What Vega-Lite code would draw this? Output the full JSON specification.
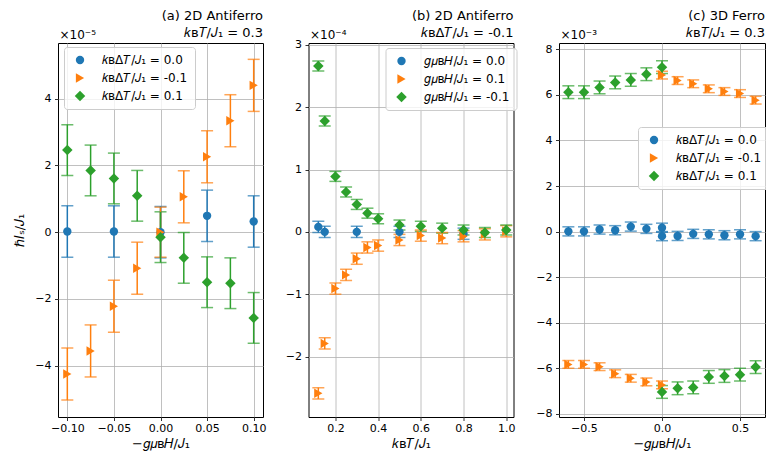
{
  "$schema": "https://vega.github.io/schema/vega-lite/v6.json",
  "padding": {"left": 13, "top": 9, "right": 0, "bottom": 0},
  "spacing": 45.5,
  "bounds": "flush",
  "resolve": {"scale": {"color": "independent", "shape": "independent", "size": "independent"}, "legend": {"color": "independent", "shape": "independent", "size": "independent"}},
  "datasets": {
    "a": [
      {"x": -0.1, "v": 0.02, "e": 0.77, "s": "𝑘ʙΔ𝑇/𝐽₁ = 0.0"},
      {"x": -0.05, "v": 0.02, "e": 0.77, "s": "𝑘ʙΔ𝑇/𝐽₁ = 0.0"},
      {"x": 0.0, "v": 0.0, "e": 0.77, "s": "𝑘ʙΔ𝑇/𝐽₁ = 0.0"},
      {"x": 0.05, "v": 0.49, "e": 0.77, "s": "𝑘ʙΔ𝑇/𝐽₁ = 0.0"},
      {"x": 0.1, "v": 0.32, "e": 0.77, "s": "𝑘ʙΔ𝑇/𝐽₁ = 0.0"},
      {"x": -0.1, "v": -4.25, "e": 0.78, "s": "𝑘ʙΔ𝑇/𝐽₁ = -0.1"},
      {"x": -0.075, "v": -3.56, "e": 0.78, "s": "𝑘ʙΔ𝑇/𝐽₁ = -0.1"},
      {"x": -0.05, "v": -2.22, "e": 0.78, "s": "𝑘ʙΔ𝑇/𝐽₁ = -0.1"},
      {"x": -0.025, "v": -1.08, "e": 0.78, "s": "𝑘ʙΔ𝑇/𝐽₁ = -0.1"},
      {"x": 0.0, "v": 0.0, "e": 0.75, "s": "𝑘ʙΔ𝑇/𝐽₁ = -0.1"},
      {"x": 0.025, "v": 1.06, "e": 0.78, "s": "𝑘ʙΔ𝑇/𝐽₁ = -0.1"},
      {"x": 0.05, "v": 2.26, "e": 0.78, "s": "𝑘ʙΔ𝑇/𝐽₁ = -0.1"},
      {"x": 0.075, "v": 3.34, "e": 0.78, "s": "𝑘ʙΔ𝑇/𝐽₁ = -0.1"},
      {"x": 0.1, "v": 4.4, "e": 0.78, "s": "𝑘ʙΔ𝑇/𝐽₁ = -0.1"},
      {"x": -0.1, "v": 2.46, "e": 0.76, "s": "𝑘ʙΔ𝑇/𝐽₁ = 0.1"},
      {"x": -0.075, "v": 1.85, "e": 0.76, "s": "𝑘ʙΔ𝑇/𝐽₁ = 0.1"},
      {"x": -0.05, "v": 1.61, "e": 0.76, "s": "𝑘ʙΔ𝑇/𝐽₁ = 0.1"},
      {"x": -0.025, "v": 1.09, "e": 0.76, "s": "𝑘ʙΔ𝑇/𝐽₁ = 0.1"},
      {"x": 0.0, "v": -0.15, "e": 0.76, "s": "𝑘ʙΔ𝑇/𝐽₁ = 0.1"},
      {"x": 0.025, "v": -0.77, "e": 0.76, "s": "𝑘ʙΔ𝑇/𝐽₁ = 0.1"},
      {"x": 0.05, "v": -1.5, "e": 0.76, "s": "𝑘ʙΔ𝑇/𝐽₁ = 0.1"},
      {"x": 0.075, "v": -1.53, "e": 0.76, "s": "𝑘ʙΔ𝑇/𝐽₁ = 0.1"},
      {"x": 0.1, "v": -2.57, "e": 0.76, "s": "𝑘ʙΔ𝑇/𝐽₁ = 0.1"}
    ],
    "b": [
      {"x": 0.12, "v": 0.08, "e": 0.09, "s": "𝑔𝜇ʙ𝐻/𝐽₁ = 0.0"},
      {"x": 0.15, "v": 0.0, "e": 0.09, "s": "𝑔𝜇ʙ𝐻/𝐽₁ = 0.0"},
      {"x": 0.3, "v": 0.0, "e": 0.09, "s": "𝑔𝜇ʙ𝐻/𝐽₁ = 0.0"},
      {"x": 0.5, "v": 0.0, "e": 0.09, "s": "𝑔𝜇ʙ𝐻/𝐽₁ = 0.0"},
      {"x": 0.8, "v": -0.03, "e": 0.09, "s": "𝑔𝜇ʙ𝐻/𝐽₁ = 0.0"},
      {"x": 0.12, "v": -2.59, "e": 0.09, "s": "𝑔𝜇ʙ𝐻/𝐽₁ = 0.1"},
      {"x": 0.15, "v": -1.79, "e": 0.09, "s": "𝑔𝜇ʙ𝐻/𝐽₁ = 0.1"},
      {"x": 0.2, "v": -0.91, "e": 0.09, "s": "𝑔𝜇ʙ𝐻/𝐽₁ = 0.1"},
      {"x": 0.25, "v": -0.69, "e": 0.09, "s": "𝑔𝜇ʙ𝐻/𝐽₁ = 0.1"},
      {"x": 0.3, "v": -0.43, "e": 0.09, "s": "𝑔𝜇ʙ𝐻/𝐽₁ = 0.1"},
      {"x": 0.35, "v": -0.25, "e": 0.09, "s": "𝑔𝜇ʙ𝐻/𝐽₁ = 0.1"},
      {"x": 0.4, "v": -0.22, "e": 0.09, "s": "𝑔𝜇ʙ𝐻/𝐽₁ = 0.1"},
      {"x": 0.5, "v": -0.13, "e": 0.09, "s": "𝑔𝜇ʙ𝐻/𝐽₁ = 0.1"},
      {"x": 0.6, "v": -0.06, "e": 0.09, "s": "𝑔𝜇ʙ𝐻/𝐽₁ = 0.1"},
      {"x": 0.7, "v": -0.1, "e": 0.09, "s": "𝑔𝜇ʙ𝐻/𝐽₁ = 0.1"},
      {"x": 0.8, "v": -0.07, "e": 0.09, "s": "𝑔𝜇ʙ𝐻/𝐽₁ = 0.1"},
      {"x": 0.9, "v": -0.04, "e": 0.09, "s": "𝑔𝜇ʙ𝐻/𝐽₁ = 0.1"},
      {"x": 1.0, "v": 0.01, "e": 0.09, "s": "𝑔𝜇ʙ𝐻/𝐽₁ = 0.1"},
      {"x": 0.12, "v": 2.66, "e": 0.08, "s": "𝑔𝜇ʙ𝐻/𝐽₁ = -0.1"},
      {"x": 0.15, "v": 1.78, "e": 0.08, "s": "𝑔𝜇ʙ𝐻/𝐽₁ = -0.1"},
      {"x": 0.2, "v": 0.89, "e": 0.08, "s": "𝑔𝜇ʙ𝐻/𝐽₁ = -0.1"},
      {"x": 0.25, "v": 0.64, "e": 0.08, "s": "𝑔𝜇ʙ𝐻/𝐽₁ = -0.1"},
      {"x": 0.3, "v": 0.44, "e": 0.08, "s": "𝑔𝜇ʙ𝐻/𝐽₁ = -0.1"},
      {"x": 0.35, "v": 0.3, "e": 0.08, "s": "𝑔𝜇ʙ𝐻/𝐽₁ = -0.1"},
      {"x": 0.4, "v": 0.21, "e": 0.08, "s": "𝑔𝜇ʙ𝐻/𝐽₁ = -0.1"},
      {"x": 0.5, "v": 0.11, "e": 0.08, "s": "𝑔𝜇ʙ𝐻/𝐽₁ = -0.1"},
      {"x": 0.6, "v": 0.09, "e": 0.08, "s": "𝑔𝜇ʙ𝐻/𝐽₁ = -0.1"},
      {"x": 0.7, "v": 0.06, "e": 0.08, "s": "𝑔𝜇ʙ𝐻/𝐽₁ = -0.1"},
      {"x": 0.8, "v": 0.03, "e": 0.08, "s": "𝑔𝜇ʙ𝐻/𝐽₁ = -0.1"},
      {"x": 0.9, "v": -0.01, "e": 0.08, "s": "𝑔𝜇ʙ𝐻/𝐽₁ = -0.1"},
      {"x": 1.0, "v": 0.03, "e": 0.08, "s": "𝑔𝜇ʙ𝐻/𝐽₁ = -0.1"}
    ],
    "c": [
      {"x": -0.6, "v": 0.01, "e": 0.2, "s": "𝑘ʙΔ𝑇/𝐽₁ = 0.0"},
      {"x": -0.5, "v": 0.01, "e": 0.2, "s": "𝑘ʙΔ𝑇/𝐽₁ = 0.0"},
      {"x": -0.4, "v": 0.09, "e": 0.2, "s": "𝑘ʙΔ𝑇/𝐽₁ = 0.0"},
      {"x": -0.3, "v": 0.06, "e": 0.2, "s": "𝑘ʙΔ𝑇/𝐽₁ = 0.0"},
      {"x": -0.2, "v": 0.22, "e": 0.2, "s": "𝑘ʙΔ𝑇/𝐽₁ = 0.0"},
      {"x": -0.1, "v": 0.12, "e": 0.2, "s": "𝑘ʙΔ𝑇/𝐽₁ = 0.0"},
      {"x": 0.0, "v": 0.17, "e": 0.2, "s": "𝑘ʙΔ𝑇/𝐽₁ = 0.0"},
      {"x": 0.0, "v": -0.2, "e": 0.2, "s": "𝑘ʙΔ𝑇/𝐽₁ = 0.0"},
      {"x": 0.1, "v": -0.19, "e": 0.2, "s": "𝑘ʙΔ𝑇/𝐽₁ = 0.0"},
      {"x": 0.2, "v": -0.1, "e": 0.2, "s": "𝑘ʙΔ𝑇/𝐽₁ = 0.0"},
      {"x": 0.3, "v": -0.12, "e": 0.2, "s": "𝑘ʙΔ𝑇/𝐽₁ = 0.0"},
      {"x": 0.4, "v": -0.16, "e": 0.2, "s": "𝑘ʙΔ𝑇/𝐽₁ = 0.0"},
      {"x": 0.5, "v": -0.12, "e": 0.2, "s": "𝑘ʙΔ𝑇/𝐽₁ = 0.0"},
      {"x": 0.6, "v": -0.2, "e": 0.2, "s": "𝑘ʙΔ𝑇/𝐽₁ = 0.0"},
      {"x": -0.6, "v": -5.83, "e": 0.17, "s": "𝑘ʙΔ𝑇/𝐽₁ = -0.1"},
      {"x": -0.5, "v": -5.83, "e": 0.17, "s": "𝑘ʙΔ𝑇/𝐽₁ = -0.1"},
      {"x": -0.4, "v": -5.93, "e": 0.17, "s": "𝑘ʙΔ𝑇/𝐽₁ = -0.1"},
      {"x": -0.3, "v": -6.24, "e": 0.17, "s": "𝑘ʙΔ𝑇/𝐽₁ = -0.1"},
      {"x": -0.2, "v": -6.44, "e": 0.17, "s": "𝑘ʙΔ𝑇/𝐽₁ = -0.1"},
      {"x": -0.1, "v": -6.6, "e": 0.17, "s": "𝑘ʙΔ𝑇/𝐽₁ = -0.1"},
      {"x": 0.0, "v": -6.73, "e": 0.17, "s": "𝑘ʙΔ𝑇/𝐽₁ = -0.1"},
      {"x": 0.0, "v": 6.87, "e": 0.17, "s": "𝑘ʙΔ𝑇/𝐽₁ = -0.1"},
      {"x": 0.1, "v": 6.63, "e": 0.17, "s": "𝑘ʙΔ𝑇/𝐽₁ = -0.1"},
      {"x": 0.2, "v": 6.49, "e": 0.17, "s": "𝑘ʙΔ𝑇/𝐽₁ = -0.1"},
      {"x": 0.3, "v": 6.27, "e": 0.17, "s": "𝑘ʙΔ𝑇/𝐽₁ = -0.1"},
      {"x": 0.4, "v": 6.15, "e": 0.17, "s": "𝑘ʙΔ𝑇/𝐽₁ = -0.1"},
      {"x": 0.5, "v": 6.06, "e": 0.17, "s": "𝑘ʙΔ𝑇/𝐽₁ = -0.1"},
      {"x": 0.6, "v": 5.77, "e": 0.17, "s": "𝑘ʙΔ𝑇/𝐽₁ = -0.1"},
      {"x": -0.6, "v": 6.12, "e": 0.28, "s": "𝑘ʙΔ𝑇/𝐽₁ = 0.1"},
      {"x": -0.5, "v": 6.12, "e": 0.28, "s": "𝑘ʙΔ𝑇/𝐽₁ = 0.1"},
      {"x": -0.4, "v": 6.33, "e": 0.28, "s": "𝑘ʙΔ𝑇/𝐽₁ = 0.1"},
      {"x": -0.3, "v": 6.55, "e": 0.28, "s": "𝑘ʙΔ𝑇/𝐽₁ = 0.1"},
      {"x": -0.2, "v": 6.66, "e": 0.28, "s": "𝑘ʙΔ𝑇/𝐽₁ = 0.1"},
      {"x": -0.1, "v": 6.91, "e": 0.28, "s": "𝑘ʙΔ𝑇/𝐽₁ = 0.1"},
      {"x": 0.0, "v": 7.22, "e": 0.28, "s": "𝑘ʙΔ𝑇/𝐽₁ = 0.1"},
      {"x": 0.0, "v": -7.04, "e": 0.28, "s": "𝑘ʙΔ𝑇/𝐽₁ = 0.1"},
      {"x": 0.1, "v": -6.88, "e": 0.28, "s": "𝑘ʙΔ𝑇/𝐽₁ = 0.1"},
      {"x": 0.2, "v": -6.84, "e": 0.28, "s": "𝑘ʙΔ𝑇/𝐽₁ = 0.1"},
      {"x": 0.3, "v": -6.38, "e": 0.28, "s": "𝑘ʙΔ𝑇/𝐽₁ = 0.1"},
      {"x": 0.4, "v": -6.34, "e": 0.28, "s": "𝑘ʙΔ𝑇/𝐽₁ = 0.1"},
      {"x": 0.5, "v": -6.28, "e": 0.28, "s": "𝑘ʙΔ𝑇/𝐽₁ = 0.1"},
      {"x": 0.6, "v": -5.95, "e": 0.28, "s": "𝑘ʙΔ𝑇/𝐽₁ = 0.1"}
    ]
  },
  "hconcat": [
    {
      "width": 205, "height": 374,
      "title": {"text": ["(a) 2D Antiferro", "𝑘ʙ𝑇/𝐽₁ = 0.3"]},
      "data": {"name": "a"},
      "resolve": {"scale": {"x": "independent"}},
      "layer": [
        {
          "mark": {"type": "errorbar", "ticks": {"size": 12, "thickness": 1.5}, "thickness": 1.5},
          "encoding": {
            "x": {"field": "x", "type": "quantitative", "scale": {"domain": [-0.11, 0.11], "nice": false, "zero": false}, "axis": {"values": [-0.1, -0.05, 0, 0.05, 0.1], "format": ".2f", "title": "−𝑔𝜇ʙ𝐻/𝐽₁", "labelPadding": 2}},
            "y": {"field": "v", "type": "quantitative", "scale": {"domain": [-5.54, 5.67], "nice": false, "zero": false}, "axis": {"values": [-4, -2, 0, 2, 4], "title": "ℏ𝐼ₛ/𝐽₁", "titlePadding": 8}},
            "yError": {"field": "e"},
            "color": {"field": "s", "type": "nominal", "scale": {"domain": ["𝑘ʙΔ𝑇/𝐽₁ = 0.0", "𝑘ʙΔ𝑇/𝐽₁ = -0.1", "𝑘ʙΔ𝑇/𝐽₁ = 0.1"], "range": ["#1f77b4", "#ff7f0e", "#2ca02c"]}, "legend": {"orient": "none", "legendX": 6, "legendY": 4}}
          }
        },
        {
          "mark": {"type": "point", "filled": true, "opacity": 1},
          "encoding": {
            "x": {"field": "x", "type": "quantitative", "scale": {"domain": [-0.11, 0.11], "nice": false, "zero": false}, "axis": {"orient": "top", "labels": false, "ticks": false, "domain": false, "grid": false, "title": "×10⁻⁵", "titleAnchor": "start", "titleAlign": "left", "titleX": 1, "titleY": -5, "titleBaseline": "alphabetic", "titleFontSize": 12}},
            "y": {"field": "v", "type": "quantitative", "axis": {"values": [-4, -2, 0, 2, 4], "title": "ℏ𝐼ₛ/𝐽₁", "titlePadding": 8}},
            "color": {"field": "s", "type": "nominal", "legend": {"orient": "none", "legendX": 6, "legendY": 4}},
            "shape": {"field": "s", "type": "nominal", "scale": {"domain": ["𝑘ʙΔ𝑇/𝐽₁ = 0.0", "𝑘ʙΔ𝑇/𝐽₁ = -0.1", "𝑘ʙΔ𝑇/𝐽₁ = 0.1"], "range": ["circle", "triangle-right", "diamond"]}, "legend": {"orient": "none", "legendX": 6, "legendY": 4}},
            "size": {"field": "s", "type": "nominal", "scale": {"domain": ["𝑘ʙΔ𝑇/𝐽₁ = 0.0", "𝑘ʙΔ𝑇/𝐽₁ = -0.1", "𝑘ʙΔ𝑇/𝐽₁ = 0.1"], "range": [70, 110, 144]}, "legend": {"orient": "none", "legendX": 6, "legendY": 4}}
          }
        }
      ]
    },
    {
      "width": 205, "height": 374,
      "title": {"text": ["(b) 2D Antiferro", "𝑘ʙΔ𝑇/𝐽₁ = -0.1"]},
      "data": {"name": "b"},
      "resolve": {"scale": {"x": "independent"}},
      "layer": [
        {
          "mark": {"type": "errorbar", "ticks": {"size": 12, "thickness": 1.5}, "thickness": 1.5},
          "encoding": {
            "x": {"field": "x", "type": "quantitative", "scale": {"domain": [0.074, 1.034], "nice": false, "zero": false}, "axis": {"values": [0.2, 0.4, 0.6, 0.8, 1.0], "format": ".1f", "title": "𝑘ʙ𝑇/𝐽₁", "labelPadding": 2}},
            "y": {"field": "v", "type": "quantitative", "scale": {"domain": [-2.97, 3.03], "nice": false, "zero": false}, "axis": {"values": [-2, -1, 0, 1, 2, 3], "title": null}},
            "yError": {"field": "e"},
            "color": {"field": "s", "type": "nominal", "scale": {"domain": ["𝑔𝜇ʙ𝐻/𝐽₁ = 0.0", "𝑔𝜇ʙ𝐻/𝐽₁ = 0.1", "𝑔𝜇ʙ𝐻/𝐽₁ = -0.1"], "range": ["#1f77b4", "#ff7f0e", "#2ca02c"]}, "legend": {"orient": "none", "legendX": 77, "legendY": 5}}
          }
        },
        {
          "mark": {"type": "point", "filled": true, "opacity": 1},
          "encoding": {
            "x": {"field": "x", "type": "quantitative", "scale": {"domain": [0.074, 1.034], "nice": false, "zero": false}, "axis": {"orient": "top", "labels": false, "ticks": false, "domain": false, "grid": false, "title": "×10⁻⁴", "titleAnchor": "start", "titleAlign": "left", "titleX": 1, "titleY": -5, "titleBaseline": "alphabetic", "titleFontSize": 12}},
            "y": {"field": "v", "type": "quantitative", "axis": {"values": [-2, -1, 0, 1, 2, 3], "title": null}},
            "color": {"field": "s", "type": "nominal", "legend": {"orient": "none", "legendX": 77, "legendY": 5}},
            "shape": {"field": "s", "type": "nominal", "scale": {"domain": ["𝑔𝜇ʙ𝐻/𝐽₁ = 0.0", "𝑔𝜇ʙ𝐻/𝐽₁ = 0.1", "𝑔𝜇ʙ𝐻/𝐽₁ = -0.1"], "range": ["circle", "triangle-right", "diamond"]}, "legend": {"orient": "none", "legendX": 77, "legendY": 5}},
            "size": {"field": "s", "type": "nominal", "scale": {"domain": ["𝑔𝜇ʙ𝐻/𝐽₁ = 0.0", "𝑔𝜇ʙ𝐻/𝐽₁ = 0.1", "𝑔𝜇ʙ𝐻/𝐽₁ = -0.1"], "range": [70, 110, 144]}, "legend": {"orient": "none", "legendX": 77, "legendY": 5}}
          }
        }
      ]
    },
    {
      "width": 206, "height": 374,
      "title": {"text": ["(c) 3D Ferro", "𝑘ʙ𝑇/𝐽₁ = 0.3"]},
      "data": {"name": "c"},
      "resolve": {"scale": {"x": "independent"}},
      "layer": [
        {
          "mark": {"type": "errorbar", "ticks": {"size": 12, "thickness": 1.5}, "thickness": 1.5},
          "encoding": {
            "x": {"field": "x", "type": "quantitative", "scale": {"domain": [-0.66, 0.66], "nice": false, "zero": false}, "axis": {"values": [-0.5, 0, 0.5], "format": ".1f", "title": "−𝑔𝜇ʙ𝐻/𝐽₁", "labelPadding": 2}},
            "y": {"field": "v", "type": "quantitative", "scale": {"domain": [-8.14, 8.28], "nice": false, "zero": false}, "axis": {"values": [-8, -6, -4, -2, 0, 2, 4, 6, 8], "title": null}},
            "yError": {"field": "e"},
            "color": {"field": "s", "type": "nominal", "scale": {"domain": ["𝑘ʙΔ𝑇/𝐽₁ = 0.0", "𝑘ʙΔ𝑇/𝐽₁ = -0.1", "𝑘ʙΔ𝑇/𝐽₁ = 0.1"], "range": ["#1f77b4", "#ff7f0e", "#2ca02c"]}, "legend": {"orient": "none", "legendX": 79, "legendY": 84}}
          }
        },
        {
          "mark": {"type": "point", "filled": true, "opacity": 1},
          "encoding": {
            "x": {"field": "x", "type": "quantitative", "scale": {"domain": [-0.66, 0.66], "nice": false, "zero": false}, "axis": {"orient": "top", "labels": false, "ticks": false, "domain": false, "grid": false, "title": "×10⁻³", "titleAnchor": "start", "titleAlign": "left", "titleX": 1, "titleY": -5, "titleBaseline": "alphabetic", "titleFontSize": 12}},
            "y": {"field": "v", "type": "quantitative", "axis": {"values": [-8, -6, -4, -2, 0, 2, 4, 6, 8], "title": null}},
            "color": {"field": "s", "type": "nominal", "legend": {"orient": "none", "legendX": 79, "legendY": 84}},
            "shape": {"field": "s", "type": "nominal", "scale": {"domain": ["𝑘ʙΔ𝑇/𝐽₁ = 0.0", "𝑘ʙΔ𝑇/𝐽₁ = -0.1", "𝑘ʙΔ𝑇/𝐽₁ = 0.1"], "range": ["circle", "triangle-right", "diamond"]}, "legend": {"orient": "none", "legendX": 79, "legendY": 84}},
            "size": {"field": "s", "type": "nominal", "scale": {"domain": ["𝑘ʙΔ𝑇/𝐽₁ = 0.0", "𝑘ʙΔ𝑇/𝐽₁ = -0.1", "𝑘ʙΔ𝑇/𝐽₁ = 0.1"], "range": [70, 110, 144]}, "legend": {"orient": "none", "legendX": 79, "legendY": 84}}
          }
        }
      ]
    }
  ],
  "config": {
    "font": "DejaVu Sans",
    "view": {"stroke": "#000000", "strokeWidth": 1},
    "axis": {"domain": false, "grid": true, "gridColor": "#b0b0b0", "gridWidth": 0.8, "tickColor": "#000000", "tickSize": 3.5, "tickWidth": 0.8, "labelColor": "#000000", "labelFontSize": 11, "labelPadding": 3.5, "labelFlush": false, "titleColor": "#000000", "titleFontSize": 13, "titleFontWeight": "normal", "titlePadding": 4},
    "title": {"anchor": "end", "frame": "group", "fontSize": 13, "fontWeight": "normal", "color": "#000000", "lineHeight": 17, "offset": -12},
    "legend": {"title": null, "fillColor": "rgba(255,255,255,0.8)", "strokeColor": "#cccccc", "cornerRadius": 3, "padding": 7, "symbolOffset": 3, "labelFontSize": 12, "labelColor": "#000000", "rowPadding": 6, "labelOffset": 16, "symbolStrokeWidth": 0, "symbolOpacity": 1}
  }
}
